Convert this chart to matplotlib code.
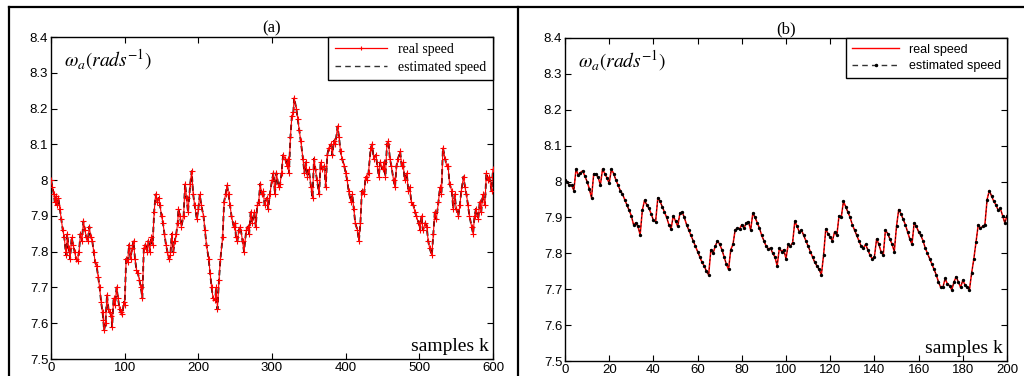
import numpy as np
import matplotlib
matplotlib.use("Agg")
import matplotlib.pyplot as plt
from matplotlib.lines import Line2D

# --- panel (a): 600 samples ---
samples_a = [
    0, 2, 4, 5, 7, 8, 10, 12, 14, 16,
    18, 20, 21, 22, 24, 26, 28, 30, 32, 34,
    36, 38, 40, 42, 44, 46, 48, 50, 52, 54,
    56, 58, 60, 62, 64, 66, 68, 70, 71, 72,
    74, 76, 78, 80, 82, 83, 85, 87, 89, 91,
    93, 95, 97, 99, 100, 102, 104, 106, 108, 110,
    112, 114, 116, 118, 120, 122, 124, 126, 128, 130,
    132, 134, 136, 138, 140, 142, 144, 146, 148, 150,
    152, 154, 156, 158, 160, 162, 164, 166, 168, 170,
    172, 173, 175, 177, 180, 182, 184, 186, 189, 191,
    193, 195, 198, 200, 202, 204, 207, 209, 211, 214,
    216, 218, 220, 223, 224, 226, 228, 230, 233, 235,
    237, 239, 241, 243, 245, 248, 250, 251, 253, 255,
    257, 260, 262, 265, 267, 269, 271, 273, 276, 278,
    280, 282, 284, 286, 288, 290, 293, 295, 297, 300,
    302, 304, 306, 309, 311, 313, 315, 318, 320, 322,
    323, 325, 327, 329, 330, 333, 335, 337, 339, 342,
    344, 346, 348, 350, 353, 355, 357, 359, 361, 364,
    366, 368, 371, 373, 375, 377, 380, 382, 384, 386,
    389, 391, 393, 395, 398, 400, 402, 404, 407, 409,
    411, 413, 416, 418, 420, 422, 425, 427, 429, 431,
    434, 436, 438, 441, 443, 445, 447, 450, 452, 454,
    456, 458, 460, 462, 465, 467, 469, 471, 474, 476,
    478, 480, 483, 485, 487, 489, 492, 494, 496, 499,
    501, 503, 505, 508, 510, 512, 514, 517, 519, 521,
    523, 526, 528, 530, 532, 535, 537, 539, 541, 544,
    546, 548, 550, 553, 555, 557, 560, 562, 564, 566,
    568, 571, 573, 575, 577, 580, 582, 584, 586, 589,
    591, 593, 595, 598, 600,
]
speed_a = [
    8.00, 7.98, 7.96, 7.94, 7.955, 7.93, 7.95, 7.92, 7.89, 7.86,
    7.84, 7.80, 7.79, 7.85, 7.81, 7.78, 7.84, 7.82, 7.80, 7.78,
    7.775, 7.80, 7.85, 7.83, 7.885, 7.86, 7.84, 7.83, 7.87, 7.84,
    7.83, 7.80, 7.77, 7.76, 7.73, 7.70, 7.66, 7.63, 7.61, 7.58,
    7.60, 7.68, 7.64, 7.63, 7.62, 7.59, 7.67, 7.65, 7.70, 7.67,
    7.64, 7.63, 7.625, 7.66, 7.65, 7.78, 7.77, 7.82, 7.78, 7.81,
    7.83, 7.78, 7.75, 7.74, 7.72, 7.70, 7.67, 7.81, 7.82, 7.80,
    7.83, 7.80, 7.84, 7.82, 7.91, 7.96, 7.94, 7.95, 7.93, 7.90,
    7.88, 7.85, 7.82, 7.80, 7.78, 7.79, 7.85, 7.80, 7.83, 7.85,
    7.88, 7.92, 7.90, 7.87, 7.90, 7.99, 7.95, 7.91, 7.99, 8.025,
    7.96, 7.93, 7.89, 7.92, 7.96, 7.93, 7.90, 7.86, 7.82, 7.78,
    7.74, 7.70, 7.67, 7.665, 7.70, 7.64, 7.72, 7.78, 7.84, 7.94,
    7.96, 7.985, 7.96, 7.93, 7.90, 7.87, 7.88, 7.84, 7.83, 7.86,
    7.87, 7.83, 7.80, 7.86, 7.87, 7.85, 7.91, 7.88, 7.91, 7.87,
    7.93, 7.94, 7.99, 7.96, 7.97, 7.93, 7.95, 7.92, 7.96, 8.00,
    8.02, 7.96, 8.02, 7.98, 7.99, 8.02, 8.07, 8.06, 8.04, 8.06,
    8.02, 8.12, 8.18, 8.19, 8.23, 8.20, 8.17, 8.14, 8.11, 8.06,
    8.02, 8.05, 8.01, 8.03, 7.98, 7.95, 8.06, 8.03, 8.00, 7.96,
    8.05, 8.03, 8.04, 7.98, 8.07, 8.09, 8.10, 8.07, 8.11, 8.10,
    8.15, 8.12, 8.08, 8.06, 8.04, 8.02, 8.00, 7.97, 7.94, 7.96,
    7.92, 7.88, 7.86, 7.83, 7.88, 7.97, 7.96, 8.01, 8.00, 8.02,
    8.09, 8.10, 8.06, 8.07, 8.04, 8.01, 8.05, 8.03, 8.05, 8.01,
    8.10, 8.11, 8.06, 8.04, 8.00, 7.98, 8.04, 8.06, 8.08, 8.04,
    8.05, 8.00, 8.02, 7.97, 7.98, 7.94, 7.93, 7.91, 7.90, 7.88,
    7.86, 7.90, 7.86, 7.88, 7.87, 7.83, 7.81, 7.79, 7.85, 7.91,
    7.89, 7.94, 7.98, 7.96, 8.09, 8.06, 8.04, 8.04, 7.99, 7.97,
    7.92, 7.96, 7.92, 7.90, 7.93, 7.97, 8.01, 7.98, 7.96, 7.93,
    7.90, 7.87, 7.85, 7.90, 7.92, 7.89, 7.94, 7.91, 7.96, 7.93,
    8.02, 8.00, 8.01, 7.97, 8.03,
]
# estimate sits right on the real trace in (a)
estimated_a = list(speed_a)

# --- panel (b): 200 samples ---
speed_b = [
    8.005, 8.000, 7.990, 7.990, 7.975, 8.035, 8.018, 8.025, 8.030, 8.015,
    8.000, 7.980, 7.955, 8.022, 8.020, 8.012, 7.990, 8.035, 8.022, 8.010,
    7.995, 8.035, 8.022, 8.005, 7.990, 7.975, 7.965, 7.950, 7.935, 7.920,
    7.905, 7.880, 7.885, 7.875, 7.852, 7.920, 7.948, 7.935, 7.925, 7.910,
    7.892, 7.888, 7.955, 7.945, 7.930, 7.915, 7.900, 7.880, 7.868, 7.905,
    7.890, 7.875, 7.912, 7.915, 7.900, 7.880, 7.865, 7.850, 7.835, 7.820,
    7.805, 7.790, 7.775, 7.765, 7.750, 7.740, 7.810, 7.800, 7.820, 7.835,
    7.825, 7.810, 7.790, 7.770, 7.755, 7.810, 7.825, 7.865, 7.870, 7.868,
    7.880, 7.870, 7.885, 7.888, 7.865, 7.912, 7.900, 7.885, 7.870, 7.850,
    7.835, 7.820, 7.812, 7.815, 7.800, 7.790, 7.765, 7.815, 7.805, 7.810,
    7.785, 7.825, 7.820, 7.830, 7.890, 7.875, 7.860, 7.865, 7.850, 7.835,
    7.820, 7.805, 7.790, 7.775, 7.765, 7.755, 7.740, 7.795, 7.868, 7.855,
    7.845, 7.835, 7.860, 7.850, 7.905, 7.900, 7.945, 7.930, 7.915, 7.900,
    7.880, 7.865, 7.850, 7.835, 7.820, 7.815, 7.825, 7.810, 7.795, 7.785,
    7.790, 7.840, 7.825, 7.805, 7.795, 7.865, 7.855, 7.840, 7.825, 7.805,
    7.875, 7.922, 7.910, 7.895, 7.880, 7.860, 7.840, 7.825, 7.885, 7.875,
    7.860, 7.850, 7.835, 7.815, 7.800, 7.785, 7.770, 7.755, 7.740, 7.720,
    7.705, 7.705, 7.730, 7.715, 7.710, 7.698, 7.720, 7.735, 7.720, 7.705,
    7.725, 7.712, 7.705, 7.698, 7.745, 7.785, 7.832, 7.880, 7.870, 7.875,
    7.880, 7.950, 7.975, 7.960, 7.945, 7.935, 7.920, 7.925, 7.905, 7.885,
    7.905,
]
samples_b = np.arange(len(speed_b))
estimated_b = list(speed_b)

yticks = [7.5, 7.6, 7.7, 7.8, 7.9, 8.0, 8.1, 8.2, 8.3, 8.4]
ytick_labels = ["7.5", "7.6", "7.7", "7.8", "7.9", "8", "8.1", "8.2", "8.3", "8.4"]

SERIF = "Liberation Serif"
SANS = "Liberation Sans"
plt.rcParams["mathtext.fontset"] = "stix"


def style_axes(ax, xmax, xstep, title):
    ax.set_xlim(0, xmax)
    ax.set_ylim(7.5, 8.4)
    ax.set_xticks(np.arange(0, xmax + 1, xstep))
    ax.set_yticks(yticks)
    ax.set_yticklabels(ytick_labels)
    ax.tick_params(direction="in", top=True, right=True, length=4, width=0.8,
                   labelsize=9.5, pad=2)
    for lab in ax.get_xticklabels() + ax.get_yticklabels():
        lab.set_family(SANS)
    for sp in ax.spines.values():
        sp.set_linewidth(1.0)
    ax.set_title(title, fontsize=12, family=SERIF, pad=3)
    ax.text(0.03, 0.93, r"$\omega_a(rads^{-1})$", transform=ax.transAxes,
            fontsize=14, ha="left", va="center")
    ax.text(0.99, 0.012, "samples k", transform=ax.transAxes, fontsize=14,
            family=SERIF, ha="right", va="bottom")


def make_legend(ax, handles, labels, family, size):
    leg = ax.legend(handles, labels, loc="upper right", borderaxespad=0,
                    fancybox=False, framealpha=1, edgecolor="black",
                    handlelength=3.8, prop={"family": family, "size": size},
                    borderpad=0.45, labelspacing=0.35)
    leg.get_frame().set_linewidth(1.0)


def main():
    fig = plt.figure(figsize=(10.24, 3.76), dpi=100)

    # (a): dashed estimate underneath, red real trace with + markers on top
    ax1 = fig.add_axes([51 / 1024, 1 - 359 / 376, 442 / 1024, 322 / 376])
    ax1.plot(samples_a, estimated_a, color="black", lw=1.3, ls=(0, (3, 2)),
             zorder=2)
    ax1.plot(samples_a, speed_a, color="red", lw=0.8, marker="+", ms=4,
             mew=0.8, zorder=3)
    style_axes(ax1, 600, 100, "(a)")
    h_real = Line2D([], [], color="red", lw=0.9, marker="+", ms=3, markevery=[1],
                    mew=0.8)
    h_est = Line2D([], [], color="#333333", lw=1.0, ls=(0, (4, 3)))
    make_legend(ax1, [h_real, h_est], ["real speed", "estimated speed"], SERIF, 10)

    # (b): red real trace, dotted black estimate
    ax2 = fig.add_axes([565 / 1024, 1 - 361 / 376, 442 / 1024, 323 / 376])
    ax2.plot(samples_b, speed_b, color="red", lw=1.1, zorder=2)
    ax2.plot(samples_b, estimated_b, color="black", lw=0.5, ls=(0, (3, 3)),
             marker=".", ms=2.8, zorder=3)
    style_axes(ax2, 200, 20, "(b)")
    h_real_b = Line2D([], [], color="red", lw=1.0)
    h_est_b = Line2D([], [], color="#333333", lw=1.0, ls=(0, (4, 3)), marker=".",
                     ms=3, markeredgecolor="black", markerfacecolor="black",
                     markevery=[1])
    make_legend(ax2, [h_real_b, h_est_b], ["real speed", "estimated speed"], SANS, 9)

    # outer frame lines of the original figure
    top = 1 - 7 / 376
    for xs, ys in [([9 / 1024, 1.0], [top, top]),
                   ([9 / 1024, 9 / 1024], [0, top]),
                   ([518 / 1024, 518 / 1024], [0, top])]:
        fig.add_artist(Line2D(xs, ys, transform=fig.transFigure, color="black",
                              lw=1.6))

    fig.savefig("out.png", dpi=100)
    plt.close(fig)


if __name__ == "__main__":
    assert len(samples_a) == len(speed_a)
    main()
